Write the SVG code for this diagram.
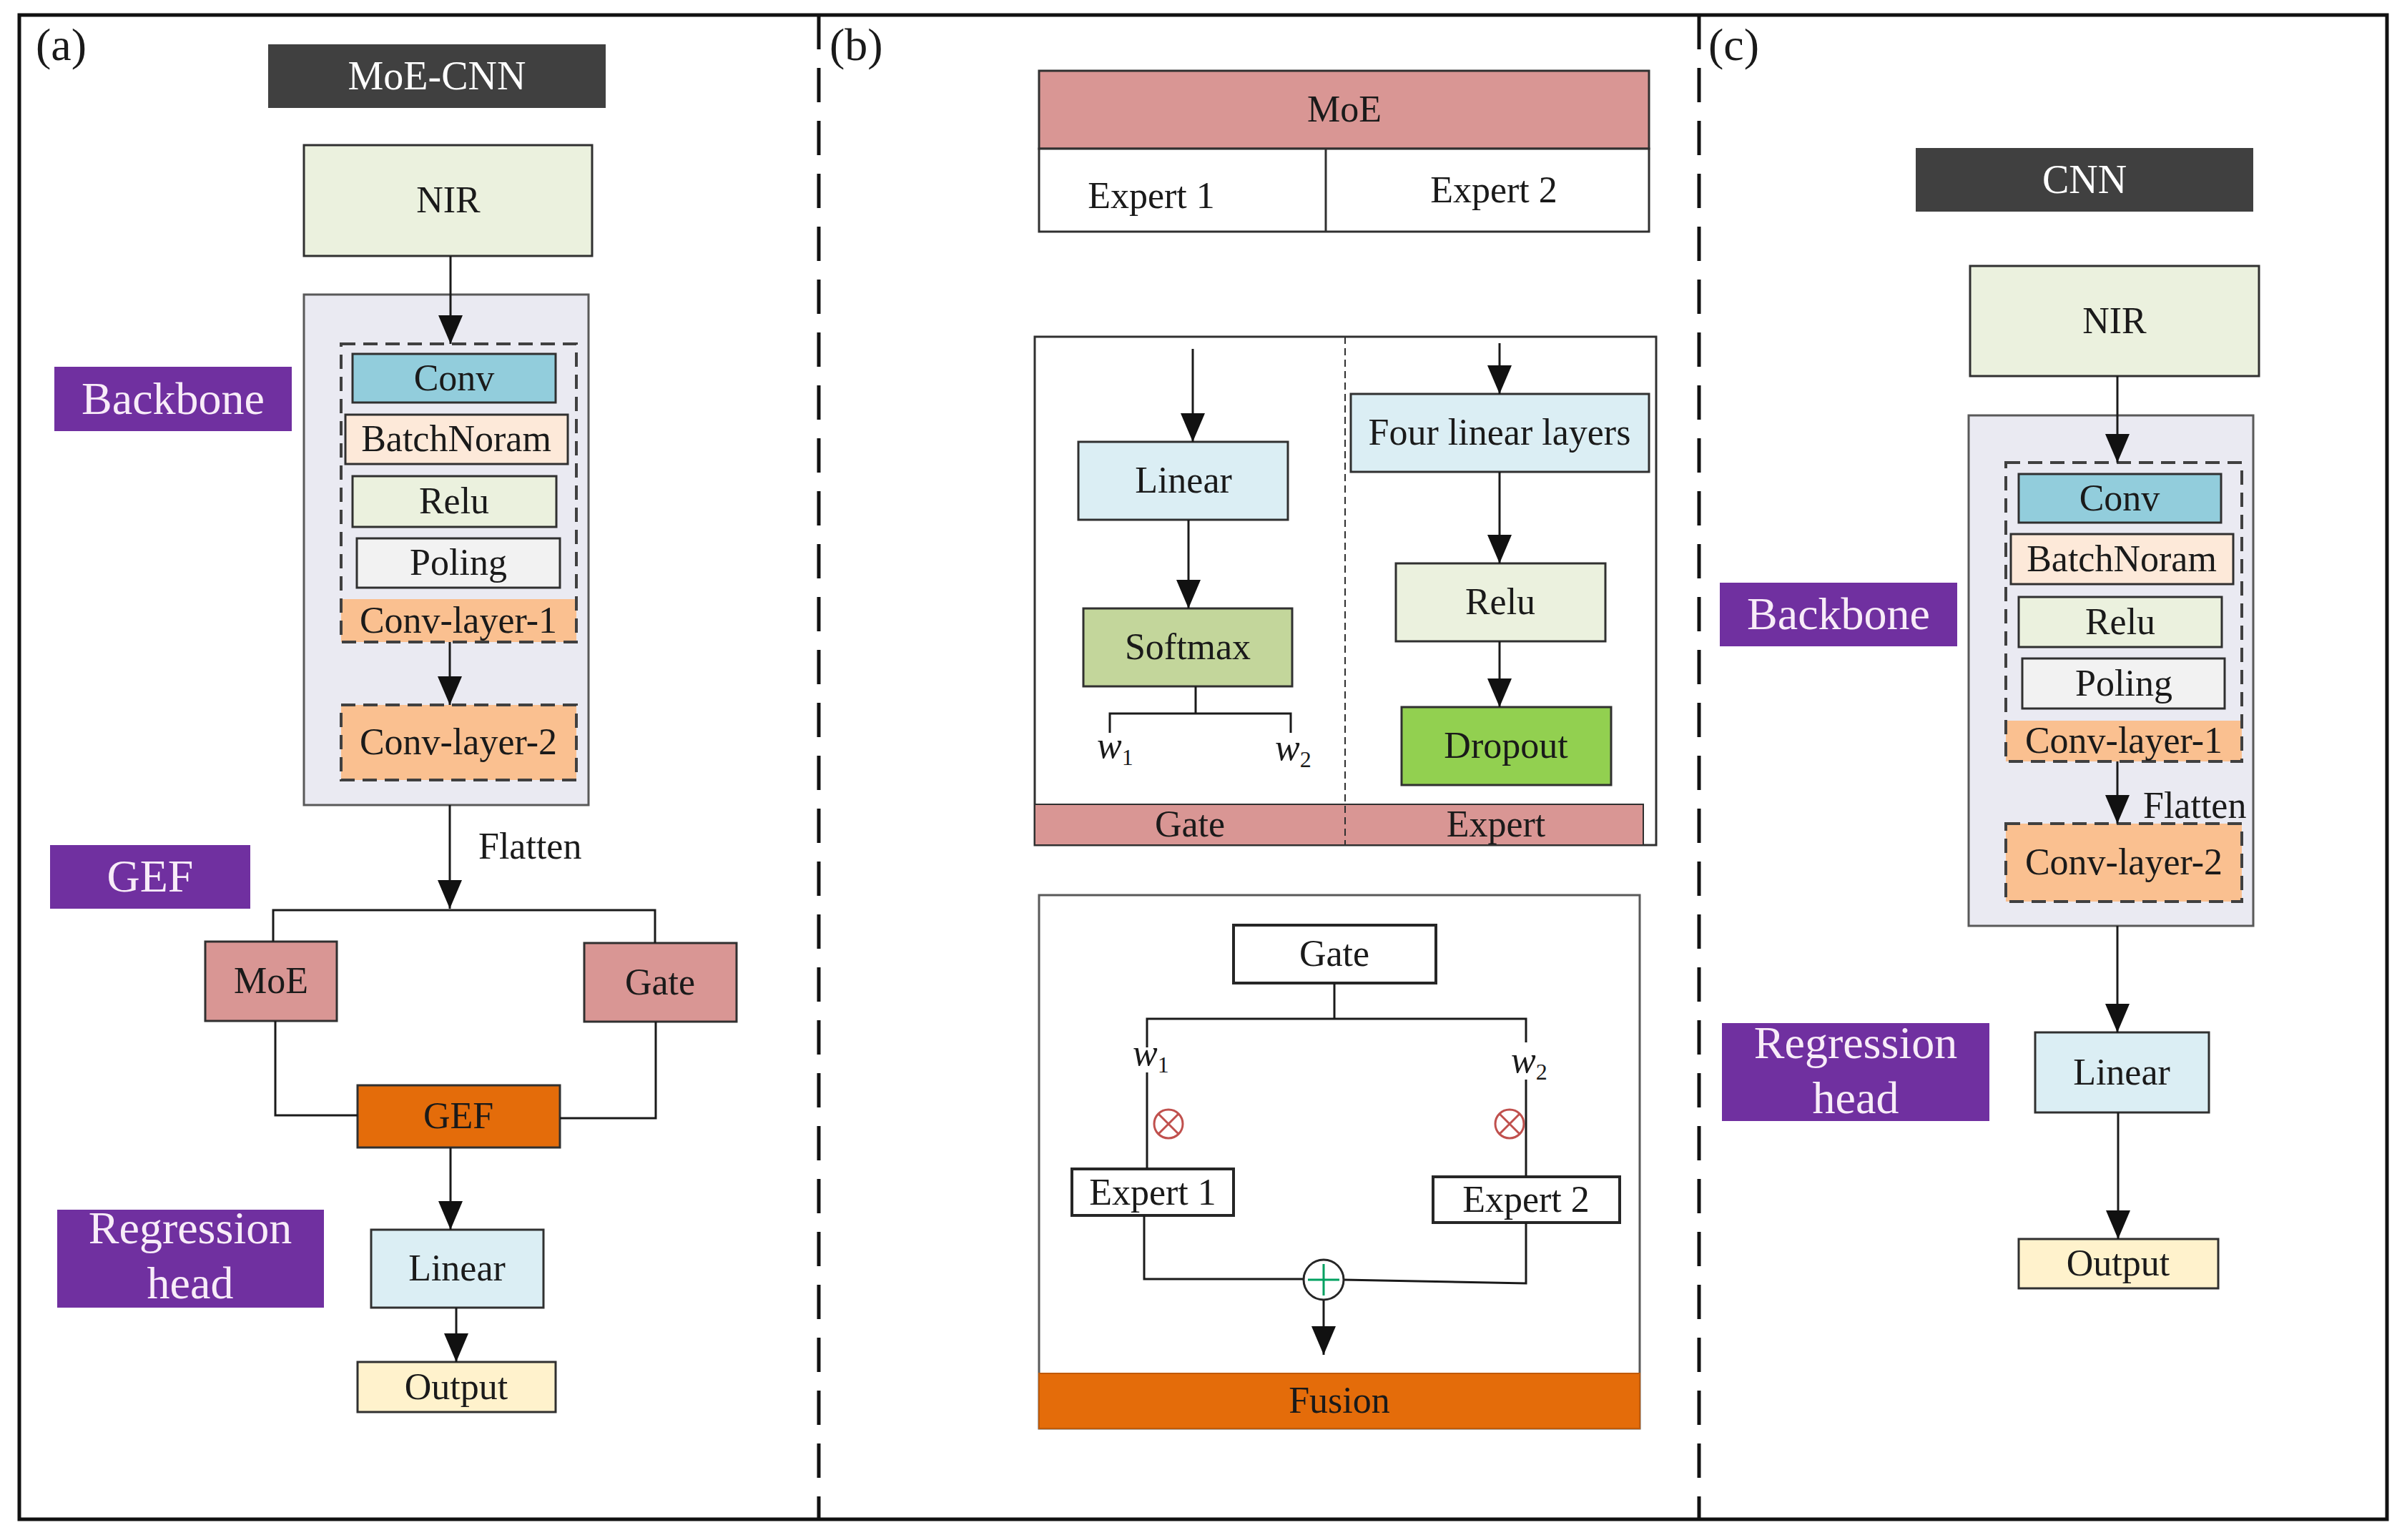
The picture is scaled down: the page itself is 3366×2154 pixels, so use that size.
<svg xmlns="http://www.w3.org/2000/svg" width="3366" height="2154" viewBox="0 0 3366 2154">
<style>
text{font-family:"Liberation Serif","Times New Roman",serif;}
.t{font-size:52px;fill:#1a1a1a;text-anchor:middle;}
.tw{font-size:56px;fill:#ffffff;text-anchor:middle;}
.lab{font-size:64px;fill:#f8ecf8;text-anchor:middle;}
.pl{font-size:64px;fill:#1a1a1a;}
.b{stroke:#303030;stroke-width:3;}
.grey{fill:#eaeaf2;stroke:#595959;stroke-width:3;}
.dsh{fill:none;stroke:#404040;stroke-width:4;stroke-dasharray:20 11;}
.purple{fill:#7030a0;}
.dark{fill:#404040;}
.c{stroke:#1a1a1a;stroke-width:3;fill:none;}
.ca{stroke:#1a1a1a;stroke-width:3;fill:none;marker-end:url(#ah);}
.w{font-size:52px;font-style:italic;fill:#1a1a1a;}
</style>
<defs>
<marker id="ah" markerUnits="userSpaceOnUse" markerWidth="40" markerHeight="34" refX="40" refY="17" orient="auto">
<path d="M0,0 L40,17 L0,34 z" fill="#111"/>
</marker>
</defs>
<rect width="3366" height="2154" fill="#ffffff"/>

<!-- frame -->
<g id="frame">
<rect x="27" y="21" width="3311" height="2104" fill="none" stroke="#111" stroke-width="5"/>
<line x1="1145" y1="21" x2="1145" y2="2125" stroke="#111" stroke-width="5" stroke-dasharray="48 26"/>
<line x1="2376" y1="21" x2="2376" y2="2125" stroke="#111" stroke-width="5" stroke-dasharray="48 26"/>
<text class="pl" x="50" y="84">(a)</text>
<text class="pl" x="1160" y="84">(b)</text>
<text class="pl" x="2389" y="84">(c)</text>
</g>

<!-- ===== Panel (a) ===== -->
<g id="a-title"><rect class="dark" x="375" y="62" width="472" height="89"/><text class="tw" x="611" y="125">MoE-CNN</text></g>
<g id="a-nir"><rect class="b" x="425" y="203" width="403" height="155" fill="#ebf1de"/><text class="t" x="627" y="297">NIR</text></g>
<g id="a-backbone">
<rect class="grey" x="425" y="412" width="398" height="714"/>
<rect x="477" y="838" width="329" height="60" fill="#fac090"/>
<rect class="dsh" x="477" y="481" width="329" height="417"/>
<text class="t" x="641" y="885" fill="#3a2a1a">Conv-layer-1</text>
</g>
<g id="a-conv"><rect class="b" x="493" y="495" width="284" height="68" fill="#92cddc"/><text class="t" x="635" y="546">Conv</text></g>
<g id="a-bn"><rect class="b" x="483" y="580" width="311" height="69" fill="#fde9d9"/><text class="t" x="638" y="631">BatchNoram</text></g>
<g id="a-relu"><rect class="b" x="493" y="666" width="285" height="71" fill="#ebf1de"/><text class="t" x="635" y="718">Relu</text></g>
<g id="a-pool"><rect class="b" x="499" y="753" width="284" height="69" fill="#f2f2f2"/><text class="t" x="641" y="804">Poling</text></g>
<g id="a-conv2"><rect x="477" y="986" width="329" height="105" fill="#fac090"/><rect class="dsh" x="477" y="986" width="329" height="105"/><text class="t" x="641" y="1055">Conv-layer-2</text></g>
<g id="a-flatten"><text class="t" x="669" y="1201" style="text-anchor:start">Flatten</text></g>
<g id="a-moe"><rect class="b" x="287" y="1317" width="184" height="111" fill="#d99694"/><text class="t" x="379" y="1389" font-size="50">MoE</text></g>
<g id="a-gate"><rect class="b" x="817" y="1319" width="213" height="110" fill="#d99694"/><text class="t" x="923" y="1391">Gate</text></g>
<g id="a-gef"><rect class="b" x="500" y="1518" width="283" height="87" fill="#e46c0a"/><text class="t" x="641" y="1578">GEF</text></g>
<g id="a-linear"><rect class="b" x="519" y="1720" width="241" height="109" fill="#dbeef4"/><text class="t" x="639" y="1791">Linear</text></g>
<g id="a-output"><rect class="b" x="500" y="1905" width="277" height="70" fill="#fff2cc"/><text class="t" x="638" y="1957">Output</text></g>
<g id="a-lab-backbone"><rect class="purple" x="76" y="513" width="332" height="90"/><text class="lab" x="242" y="579">Backbone</text></g>
<g id="a-lab-gef"><rect class="purple" x="70" y="1182" width="280" height="89"/><text class="lab" x="210" y="1247">GEF</text></g>
<g id="a-lab-head"><rect class="purple" x="80" y="1692" width="373" height="137"/><text class="lab" x="266" y="1739">Regression</text><text class="lab" x="266" y="1816">head</text></g>

<!-- ===== Panel (b) ===== -->
<g id="b-moe-table">
<rect class="b" x="1453" y="99" width="853" height="109" fill="#d99694"/>
<text class="t" x="1880" y="170">MoE</text>
<rect class="b" x="1453" y="208" width="853" height="116" fill="#ffffff"/>
<line x1="1854" y1="208" x2="1854" y2="324" stroke="#303030" stroke-width="3"/>
<text class="t" x="1610" y="291" font-size="50">Expert 1</text>
<text class="t" x="2089" y="283" font-size="50">Expert 2</text>
</g>
<g id="b-gate-expert">
<rect x="1447" y="471" width="869" height="711" fill="#ffffff" stroke="#303030" stroke-width="3"/>
<rect x="1447" y="1125" width="851" height="57" fill="#d99694" stroke="#303030" stroke-width="2"/>
<line x1="1881" y1="471" x2="1881" y2="1182" stroke="#303030" stroke-width="2" stroke-dasharray="10 6"/>
<text class="t" x="1664" y="1170">Gate</text>
<text class="t" x="2092" y="1170">Expert</text>
</g>
<g id="b-linear"><rect class="b" x="1508" y="618" width="293" height="109" fill="#dbeef4"/><text class="t" x="1655" y="689">Linear</text></g>
<g id="b-softmax"><rect class="b" x="1515" y="851" width="292" height="109" fill="#c3d69b"/><text class="t" x="1661" y="922">Softmax</text></g>
<g id="b-w"><text class="w" x="1534" y="1060">w<tspan font-size="32" font-style="normal" dy="10">1</tspan></text><text class="w" x="1783" y="1063">w<tspan font-size="32" font-style="normal" dy="10">2</tspan></text></g>
<g id="b-four"><rect class="b" x="1889" y="551" width="417" height="109" fill="#dbeef4"/><text class="t" x="2097" y="622">Four linear layers</text></g>
<g id="b-relu"><rect class="b" x="1952" y="788" width="293" height="109" fill="#ebf1de"/><text class="t" x="2098" y="859">Relu</text></g>
<g id="b-dropout"><rect class="b" x="1960" y="989" width="293" height="109" fill="#92d050"/><text class="t" x="2106" y="1060">Dropout</text></g>

<g id="b-fusion-panel">
<rect x="1453" y="1252" width="840" height="746" fill="none" stroke="#595959" stroke-width="3"/>
<rect x="1453" y="1921" width="840" height="77" fill="#e46c0a" stroke="#c05a08" stroke-width="2"/>
<text class="t" x="1873" y="1976">Fusion</text>
</g>
<g id="b-gate"><rect x="1725" y="1294" width="283" height="81" fill="#ffffff" stroke="#262626" stroke-width="4"/><text class="t" x="1866" y="1351">Gate</text></g>
<g id="b-w2"><text class="w" x="1584" y="1490">w<tspan font-size="32" font-style="normal" dy="10">1</tspan></text><text class="w" x="2113" y="1500">w<tspan font-size="32" font-style="normal" dy="10">2</tspan></text></g>
<g id="b-mul1"><circle cx="1634" cy="1572" r="20" fill="none" stroke="#c0504d" stroke-width="3"/><path d="M1620,1558 L1648,1586 M1648,1558 L1620,1586" stroke="#c0504d" stroke-width="3"/></g>
<g id="b-mul2"><circle cx="2111" cy="1572" r="20" fill="none" stroke="#c0504d" stroke-width="3"/><path d="M2097,1558 L2125,1586 M2125,1558 L2097,1586" stroke="#c0504d" stroke-width="3"/></g>
<g id="b-expert1"><rect x="1499" y="1635" width="226" height="65" fill="#ffffff" stroke="#262626" stroke-width="4"/><text class="t" x="1612" y="1685" font-size="50">Expert 1</text></g>
<g id="b-expert2"><rect x="2004" y="1646" width="261" height="64" fill="#ffffff" stroke="#262626" stroke-width="4"/><text class="t" x="2134" y="1695" font-size="50">Expert 2</text></g>

<!-- ===== Panel (c) ===== -->
<g id="c-title"><rect class="dark" x="2679" y="207" width="472" height="89"/><text class="tw" x="2915" y="270">CNN</text></g>
<g id="c-nir"><rect class="b" x="2755" y="372" width="404" height="154" fill="#ebf1de"/><text class="t" x="2957" y="466">NIR</text></g>
<g id="c-backbone">
<rect class="grey" x="2753" y="581" width="398" height="714"/>
<rect x="2805" y="1008" width="330" height="57" fill="#fac090"/>
<rect class="dsh" x="2805" y="647" width="330" height="418"/>
<text class="t" x="2970" y="1053">Conv-layer-1</text>
</g>
<g id="c-conv"><rect class="b" x="2823" y="663" width="283" height="68" fill="#92cddc"/><text class="t" x="2964" y="714">Conv</text></g>
<g id="c-bn"><rect class="b" x="2812" y="747" width="311" height="70" fill="#fde9d9"/><text class="t" x="2967" y="799">BatchNoram</text></g>
<g id="c-relu"><rect class="b" x="2823" y="835" width="284" height="70" fill="#ebf1de"/><text class="t" x="2965" y="887">Relu</text></g>
<g id="c-pool"><rect class="b" x="2828" y="921" width="283" height="70" fill="#f2f2f2"/><text class="t" x="2970" y="973">Poling</text></g>
<g id="c-flatten"><text class="t" x="2997" y="1144" style="text-anchor:start">Flatten</text></g>
<g id="c-conv2"><rect x="2805" y="1152" width="330" height="109" fill="#fac090"/><rect class="dsh" x="2805" y="1152" width="330" height="109"/><text class="t" x="2970" y="1223">Conv-layer-2</text></g>
<g id="c-linear"><rect class="b" x="2846" y="1444" width="243" height="112" fill="#dbeef4"/><text class="t" x="2967" y="1517">Linear</text></g>
<g id="c-output"><rect class="b" x="2823" y="1733" width="279" height="69" fill="#fff2cc"/><text class="t" x="2962" y="1784">Output</text></g>
<g id="c-lab-backbone"><rect class="purple" x="2405" y="815" width="332" height="89"/><text class="lab" x="2571" y="880">Backbone</text></g>
<g id="c-lab-head"><rect class="purple" x="2408" y="1431" width="374" height="137"/><text class="lab" x="2595" y="1480">Regression</text><text class="lab" x="2595" y="1557">head</text></g>

<!-- connectors (drawn on top) -->
<g id="connectors">
<!-- panel a -->
<line class="ca" x1="630" y1="358" x2="630" y2="481"/>
<line class="ca" x1="629" y1="898" x2="629" y2="986"/>
<line class="ca" x1="629" y1="1126" x2="629" y2="1271"/>
<path class="c" d="M382,1317 V1273 H916 V1319"/>
<path class="c" d="M385,1428 V1560 H500"/>
<path class="c" d="M917,1429 V1564 H783"/>
<line class="ca" x1="630" y1="1605" x2="630" y2="1720"/>
<line class="ca" x1="638" y1="1829" x2="638" y2="1905"/>
<!-- panel b upper -->
<line class="ca" x1="1668" y1="488" x2="1668" y2="618"/>
<line class="ca" x1="1662" y1="727" x2="1662" y2="851"/>
<path class="c" d="M1672,960 V998 M1552,1025 V998 H1805 V1025"/>
<line class="ca" x1="2097" y1="480" x2="2097" y2="551"/>
<line class="ca" x1="2097" y1="660" x2="2097" y2="788"/>
<line class="ca" x1="2097" y1="897" x2="2097" y2="989"/>
<!-- panel b lower -->
<path class="c" d="M1866,1375 V1425 M1604,1465 V1425 H2134 V1458"/>
<line class="c" x1="1604" y1="1500" x2="1604" y2="1635"/>
<line class="c" x1="2134" y1="1510" x2="2134" y2="1646"/>
<path class="c" d="M1600,1700 V1789 H1823"/>
<path class="c" d="M2134,1710 V1795 L1879,1790"/>
<line class="ca" x1="1851" y1="1818" x2="1851" y2="1895"/>
<!-- panel c -->
<line class="ca" x1="2961" y1="526" x2="2961" y2="647"/>
<line class="ca" x1="2961" y1="1065" x2="2961" y2="1152"/>
<line class="ca" x1="2961" y1="1295" x2="2961" y2="1444"/>
<line class="ca" x1="2962" y1="1556" x2="2962" y2="1733"/>
</g>

<g id="b-sum"><circle cx="1851" cy="1790" r="28" fill="#ffffff" stroke="#262626" stroke-width="3"/><path d="M1851,1768 V1812 M1829,1790 H1873" stroke="#00a060" stroke-width="3"/></g>
</svg>
